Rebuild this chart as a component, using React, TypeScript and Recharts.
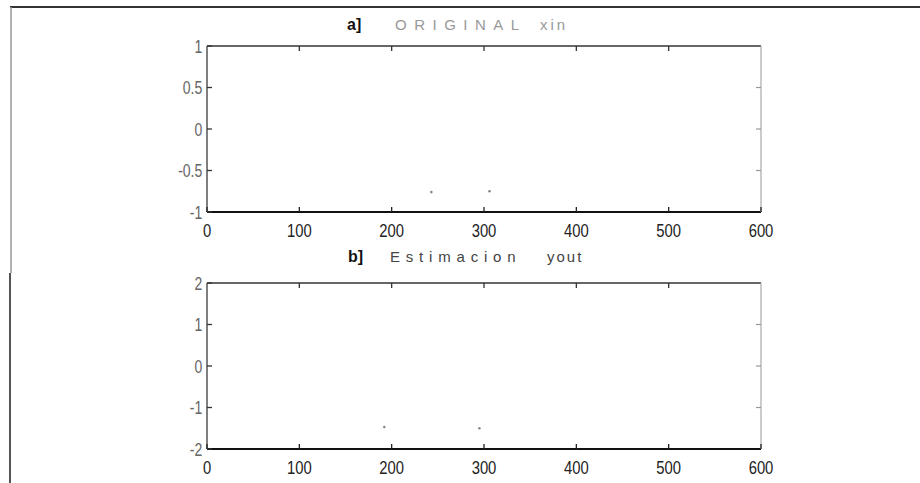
import React from "react";
import { ScatterChart, Scatter, XAxis, YAxis } from "recharts";

// ---- data ----
const xTicks = [0, 100, 200, 300, 400, 500, 600];
const yTicksA = [-1, -0.5, 0, 0.5, 1];
const yTicksB = [-2, -1, 0, 1, 2];
const yLabelsA = ["-1", "-0.5", "0", "0.5", "1"];
const yLabelsB = ["-2", "-1", "0", "1", "2"];
const pointsA = [
  { x: 243, y: -0.76 },
  { x: 306, y: -0.75 },
];
const pointsB = [
  { x: 192, y: -1.47 },
  { x: 295, y: -1.5 },
];

const FONT = "'Liberation Sans', Arial, sans-serif";

const labelFor = (v: number, ticks: number[], labels: string[]) => {
  const i = ticks.indexOf(v);
  return i >= 0 ? labels[i] : String(v);
};

const BottomTick = (props: any) => {
  const { x, y, payload } = props;
  return (
    <g transform={`translate(${x},${y})`}>
      <line x1={0} y1={0} x2={0} y2={-5} stroke="#222" strokeWidth={1.3} />
      <text
        transform="scale(0.78,1)"
        x={0}
        y={25.5}
        textAnchor="middle"
        fontSize={19}
        fontFamily={FONT}
        fill="#222"
      >
        {payload.value}
      </text>
    </g>
  );
};

const TopTick = (props: any) => {
  const { x, y } = props;
  return <line x1={x} y1={y} x2={x} y2={y + 5} stroke="#333" strokeWidth={1.3} />;
};

const RightTick = (props: any) => {
  const { x, y } = props;
  return <line x1={x} y1={y} x2={x - 5} y2={y} stroke="#999" strokeWidth={1.2} />;
};

const makeLeftTick = (ticks: number[], labels: string[]) => (props: any) => {
  const { x, y, payload } = props;
  return (
    <g transform={`translate(${x},${y})`}>
      <line x1={0} y1={0} x2={5} y2={0} stroke="#333" strokeWidth={1.3} />
      <text
        transform="scale(0.78,1)"
        x={-6}
        y={6.5}
        textAnchor="end"
        fontSize={18}
        fontFamily={FONT}
        fill="#666"
      >
        {labelFor(payload.value, ticks, labels)}
      </text>
    </g>
  );
};

const LeftTickA = makeLeftTick(yTicksA, yLabelsA);
const LeftTickB = makeLeftTick(yTicksB, yLabelsB);

const Panel = ({
  top,
  height,
  yTicks,
  leftTick,
  points,
  marginTop,
  marginBottom,
}: any) => (
  <div style={{ position: "absolute", left: 0, top, width: 920, height }}>
    <ScatterChart
      width={920}
      height={height}
      margin={{ top: marginTop, right: 158, bottom: marginBottom, left: 167 }}
    >
      <XAxis
        xAxisId="b"
        type="number"
        dataKey="x"
        domain={[0, 600]}
        ticks={xTicks}
        allowDataOverflow
        orientation="bottom"
        height={28}
        tickSize={0}
        tickMargin={0}
        tickLine={false}
        axisLine={{ stroke: "#111", strokeWidth: 1.8 }}
        tick={<BottomTick />}
        interval={0}
      />
      <XAxis
        xAxisId="t"
        type="number"
        dataKey="x"
        domain={[0, 600]}
        ticks={xTicks.slice(1, -1)}
        allowDataOverflow
        orientation="top"
        height={1}
        tickSize={0}
        tickMargin={0}
        tickLine={false}
        axisLine={{ stroke: "#333", strokeWidth: 1.5 }}
        tick={<TopTick />}
        interval={0}
      />
      <YAxis
        yAxisId="l"
        type="number"
        dataKey="y"
        domain={[yTicks[0], yTicks[yTicks.length - 1]]}
        ticks={yTicks}
        allowDataOverflow
        orientation="left"
        width={40}
        tickSize={0}
        tickMargin={0}
        tickLine={false}
        axisLine={{ stroke: "#555", strokeWidth: 1.5 }}
        tick={leftTick}
        interval={0}
      />
      <YAxis
        yAxisId="r"
        type="number"
        dataKey="y"
        domain={[yTicks[0], yTicks[yTicks.length - 1]]}
        ticks={yTicks.slice(1, -1)}
        allowDataOverflow
        orientation="right"
        width={1}
        tickSize={0}
        tickMargin={0}
        tickLine={false}
        axisLine={{ stroke: "#aaa", strokeWidth: 1.2 }}
        tick={<RightTick />}
        interval={0}
      />
      <Scatter
        data={points}
        xAxisId="b"
        yAxisId="l"
        fill="#888"
        shape={(p: any) => <circle cx={p.cx} cy={p.cy} r={1.3} fill="#888" />}
        isAnimationActive={false}
      />
    </ScatterChart>
  </div>
);

export default function App() {
  return (
    <div
      style={{
        position: "absolute",
        left: 0,
        top: 0,
        width: 920,
        height: 483,
        background: "#fff",
        overflow: "hidden",
      }}
    >
      <svg
        width={920}
        height={483}
        style={{ position: "absolute", left: 0, top: 0 }}
      >
        <line x1={10} y1={7} x2={920} y2={7} stroke="#333" strokeWidth={2} />
        <line x1={11} y1={7} x2={11} y2={273} stroke="#999" strokeWidth={1.5} />
        <line x1={10} y1={273} x2={10} y2={483} stroke="#555" strokeWidth={2} />
        <text y={30} fontFamily={FONT}>
          <tspan x={347} fontSize={16} fontWeight="bold" fill="#111">a]</tspan>
          <tspan x={395} fontSize={15} fill="#999" letterSpacing={7.5}>ORIGINAL</tspan>
          <tspan x={540} fontSize={15} fill="#999" letterSpacing={3}>xin</tspan>
        </text>
        <text y={262} fontFamily={FONT}>
          <tspan x={348} fontSize={16} fontWeight="bold" fill="#111">b]</tspan>
          <tspan x={390} fontSize={15} fill="#444" letterSpacing={5.8}>Estimacion</tspan>
          <tspan x={547} fontSize={15} fill="#444" letterSpacing={2}>yout</tspan>
        </text>
      </svg>
      <Panel
        top={0}
        height={250}
        yTicks={yTicksA}
        leftTick={<LeftTickA />}
        points={pointsA}
        marginTop={45}
        marginBottom={10}
      />
      <Panel
        top={240}
        height={243}
        yTicks={yTicksB}
        leftTick={<LeftTickB />}
        points={pointsB}
        marginTop={42}
        marginBottom={6}
      />
    </div>
  );
}
